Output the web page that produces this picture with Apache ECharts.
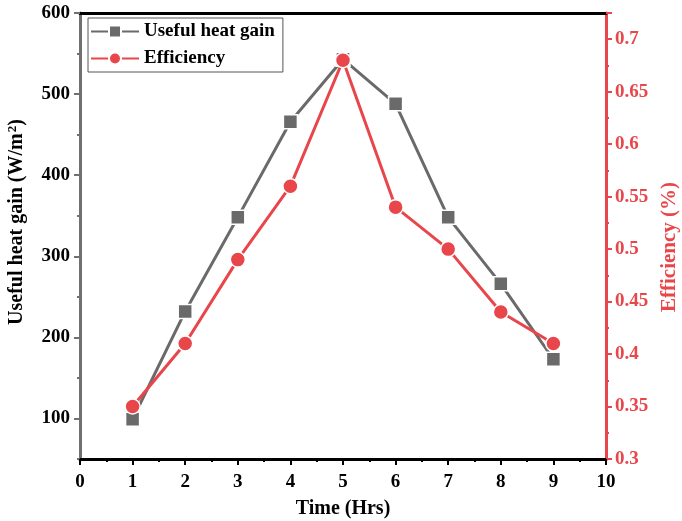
<!DOCTYPE html>
<html>
<head>
<meta charset="utf-8">
<script src="https://cdn.jsdelivr.net/npm/echarts@6/dist/echarts.min.js"></script>
<style>
  html, body { margin: 0; padding: 0; background: #fff; }
  #chart { width: 682px; height: 521px; }
</style>
</head>
<body>
<div id="chart"></div>
<script>
// Hourly collector readings
const hours = [1, 2, 3, 4, 5, 6, 7, 8, 9];
const heatGain = [99, 232, 348, 466, 543, 488, 348, 266, 173];
const efficiency = [0.35, 0.41, 0.49, 0.56, 0.68, 0.54, 0.50, 0.44, 0.41];

const heatLabels = [100, 200, 300, 400, 500, 600];
const heatMinor = [50, 150, 250, 350, 450, 550];

const GRAY = '#6a6a6a';
const RED = '#e8464a';
const FONT = '"Liberation Serif", "Times New Roman", serif';

const chart = echarts.init(document.getElementById('chart'));

const pairs = (xs, ys) => xs.map((x, i) => [x, ys[i]]);

chart.setOption({
  animation: false,
  textStyle: { fontFamily: FONT, fontWeight: 'bold', color: '#000' },
  grid: { left: 80, right: 76, top: 13, bottom: 62, containLabel: false, outerBoundsMode: 'none' },
  legend: {
    left: 88, top: 18,
    orient: 'vertical',
    borderColor: '#555', borderWidth: 1,
    padding: [3, 8, 3, 2],
    itemWidth: 48, itemHeight: 15, itemGap: 6,
    textStyle: { fontFamily: FONT, fontWeight: 'bold', fontSize: 19, lineHeight: 21, color: '#000' },
    data: ['Useful heat gain', 'Efficiency']
  },
  xAxis: [{
    type: 'value', min: 0, max: 10, interval: 1,
    name: 'Time (Hrs)', nameLocation: 'middle', nameGap: 40,
    nameTextStyle: { fontFamily: FONT, fontWeight: 'bold', fontSize: 20, color: '#000' },
    axisLine: { onZero: false, lineStyle: { color: '#000', width: 3 } },
    axisTick: { length: 6, lineStyle: { color: '#000', width: 2 } },
    minorTick: { show: true, splitNumber: 2, length: 3, lineStyle: { color: '#000', width: 2 } },
    splitLine: { show: false },
    axisLabel: { margin: 14, fontFamily: FONT, fontWeight: 'bold', fontSize: 19, color: '#000' }
  }, {
    // frame line across the top
    type: 'value', min: 0, max: 10, position: 'top',
    axisLine: { show: true, onZero: false, lineStyle: { color: '#000', width: 3 } },
    axisTick: { show: false }, axisLabel: { show: false }, splitLine: { show: false }
  }],
  yAxis: [{
    type: 'value', min: 50, max: 600, position: 'left',
    name: 'Useful heat gain (W/m{sup|2})',
    nameLocation: 'middle', nameGap: 52, nameRotate: 90,
    nameTextStyle: {
      fontFamily: FONT, fontWeight: 'bold', fontSize: 20, color: '#000',
      padding: [0, 0, 0, 28],
      rich: { sup: { fontFamily: FONT, fontWeight: 'bold', fontSize: 13, verticalAlign: 'top', padding: [0, 0, 9, 1] } }
    },
    axisLine: { show: true, onZero: false, lineStyle: { color: '#707070', width: 3 } },
    axisTick: { show: true, length: 6, customValues: heatLabels, lineStyle: { color: '#707070', width: 2 } },
    splitLine: { show: false },
    axisLabel: { customValues: heatLabels, margin: 10, fontFamily: FONT, fontWeight: 'bold', fontSize: 19, color: '#000' }
  }, {
    type: 'value', min: 0.3, max: 0.725, interval: 0.05, position: 'right',
    name: 'Efficiency (%)', nameLocation: 'middle', nameGap: 44, nameRotate: 90,
    nameTextStyle: { fontFamily: FONT, fontWeight: 'bold', fontSize: 21, color: RED, padding: [0, 22, 0, 0] },
    axisLine: { show: true, onZero: false, lineStyle: { color: RED, width: 3 } },
    axisTick: { show: true, length: 6, lineStyle: { color: RED, width: 2 } },
    minorTick: { show: true, splitNumber: 2, length: 3, lineStyle: { color: RED, width: 2 } },
    splitLine: { show: false },
    axisLabel: { margin: 9, showMaxLabel: false, fontFamily: FONT, fontWeight: 'bold', fontSize: 19, color: RED,
      formatter: v => String(parseFloat(v.toFixed(3))) }
  }, {
    // minor ticks on the heat gain axis
    type: 'value', min: 50, max: 600, position: 'left',
    axisLine: { show: false },
    axisTick: { show: true, length: 3, customValues: heatMinor, lineStyle: { color: '#707070', width: 2 } },
    axisLabel: { show: false }, splitLine: { show: false }
  }],
  series: [{
    name: 'Useful heat gain', type: 'line', yAxisIndex: 0,
    data: pairs(hours, heatGain),
    symbol: 'rect', symbolSize: 14,
    lineStyle: { color: GRAY, width: 3 },
    itemStyle: { color: GRAY, borderColor: '#fff', borderWidth: 1.5 },
    z: 2
  }, {
    name: 'Efficiency', type: 'line', yAxisIndex: 1,
    data: pairs(hours, efficiency),
    symbol: 'circle', symbolSize: 15,
    lineStyle: { color: RED, width: 3 },
    itemStyle: { color: RED, borderColor: '#fff', borderWidth: 1.5 },
    z: 3
  }]
});
</script>
</body>
</html>
